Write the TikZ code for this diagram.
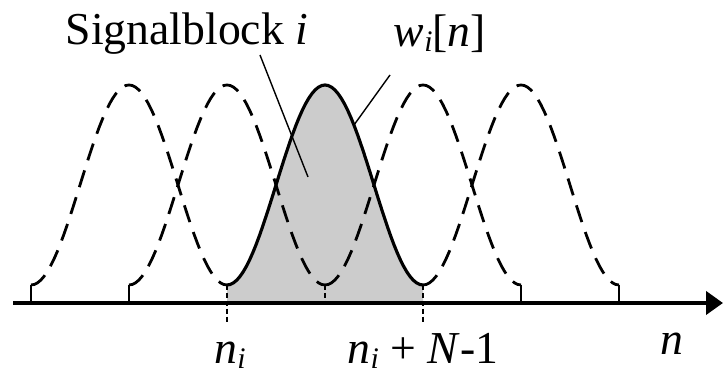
\documentclass[tikz,border=0pt]{standalone}
\usepackage{fontspec}
\setmainfont{Liberation Serif}
\newfontfamily\labelfont{Liberation Serif}
\usetikzlibrary{arrows.meta, positioning, calc}
\definecolor{cshade}{gray}{0.8}
\newcommand{\idx}[1]{\raisebox{-2.5pt}{\fontsize{17}{20}\selectfont\textit{#1}}}
\tikzset{
  lbl/.style={font=\labelfont\fontsize{26}{31}\selectfont, inner sep=0pt},
  window/.style={line width=1.8pt, line join=round},
  dashwin/.style={line width=1.6pt, dash pattern=on 10pt off 6pt},
  stem/.style={line width=1.3pt},
  tickline/.style={line width=0.6pt, dash pattern=on 3pt off 1.5pt},
  leader/.style={line width=0.8pt},
  axis/.style={-{Triangle[length=0.34cm, width=0.46cm]}, line width=2.3pt},
}

\begin{document}
\begin{tikzpicture}[x=0.02cm, y=0.02cm]
  \useasboundingbox (0,0) rectangle (723,377);
  % shaded signal block
  \fill[cshade] (227,74) -- plot[domain=0:360, samples=61] ({227+\x*0.54444}, {92+100*(1-cos(\x))}) -- (423,74) -- cycle;
  % neighbouring windows
  \foreach \s in {31, 129, 325, 423} {
    \draw[dashwin] plot[domain=0:360, samples=61] ({\s+\x*0.54444}, {92+100*(1-cos(\x))});
  }
  % window i
  \draw[window] plot[domain=0:360, samples=61] ({227+\x*0.54444}, {92+100*(1-cos(\x))});
  % stems and ticks
  \foreach \s in {31, 129, 521, 619} \draw[stem] (\s,74) -- (\s,92);
  \foreach \s in {227, 423} \draw[tickline] (\s,92) -- (\s,55);
  \draw[tickline] (325,92) -- (325,74);
  % axis
  \coordinate (axstart) at (13,74);
  \coordinate (axend) at (723,74);
  \draw[axis] (axstart) -- (axend);
  % labels
  \node[lbl, anchor=base] (sblabel) at (187,332) {Signalblock \textit{i}};
  \node[lbl, anchor=base] (wlabel) at (440,330) {\textit{w}\idx{i}[\textit{n}]};
  \node[lbl, anchor=base] (nstart) at (230,13) {\textit{n}\idx{i}};
  \node[lbl, anchor=base] (nend) at (423,13) {\textit{n}\idx{i} + \textit{N}-1};
  \node[lbl, anchor=base] (nlabel) at (672,22) {\textit{n}};
  % leaders
  \coordinate (sbtail) at (260,322);
  \coordinate (sbhead) at (308,200);
  \draw[leader] (sbtail) -- (sbhead);
  \coordinate (wtail) at (390,302);
  \coordinate (whead) at (354,252);
  \draw[leader] (wtail) -- (whead);
\end{tikzpicture}
\end{document}
